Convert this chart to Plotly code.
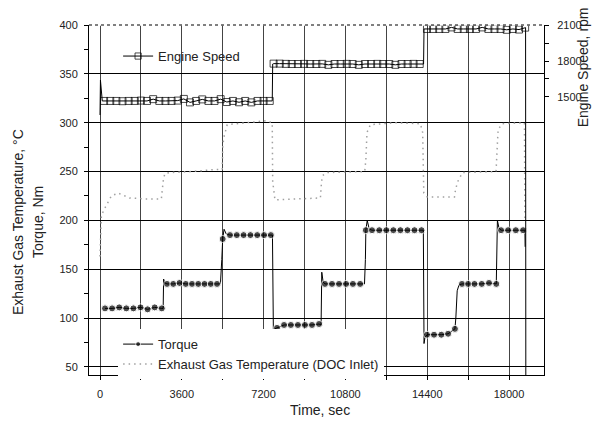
import plotly.graph_objects as go

# ---------------- data ----------------
time_ticks = [0, 3600, 7200, 10800, 14400, 18000]
time_tick_labels = ["0", "3600", "7200", "10800", "14400", "18000"]
time_minor = [1800, 5400, 9000, 12600, 16200]
left_ticks = [50, 100, 150, 200, 250, 300, 350, 400]
left_minor = [75, 125, 175, 225, 275, 325, 375]
speed_ticks = [1500, 1800, 2100]
speed_minor = [1650, 1950]

# Engine speed (rpm, right axis); sampled = 1 where a recorded sample (marker) sits
speed_time = [0, 20, 100,
              180, 450, 720, 990, 1260, 1530, 1800, 2070, 2340, 2610, 2880, 3150, 3420, 3690,
              3960, 4230, 4500, 4770, 5040, 5310, 5580, 5850, 6120, 6390, 6660, 6930, 7200, 7470,
              7580, 7600,
              7640, 7910, 8180, 8440, 8710, 8980, 9250, 9520, 9780, 10050, 10320, 10590, 10860,
              11120, 11390, 11660, 11930, 12200, 12460, 12730, 13000, 13270, 13540, 13800, 14070,
              14240, 14260,
              14390, 14660, 14930, 15200, 15470, 15740, 16010, 16280, 16550, 16820, 17090, 17360,
              17630, 17900, 18170, 18440, 18710,
              18730, 18740]
speed_rpm = [1350, 1640, 1467,
             1467, 1467, 1467, 1465, 1467, 1467, 1470, 1467, 1482, 1467, 1467, 1467, 1470, 1484,
             1455, 1467, 1480, 1467, 1467, 1482, 1458, 1467, 1456, 1467, 1455, 1467, 1467, 1467,
             1467, 1775,
             1778, 1778, 1776, 1775, 1775, 1776, 1775, 1775, 1776, 1768, 1775, 1775, 1776,
             1775, 1768, 1775, 1775, 1776, 1775, 1775, 1768, 1775, 1775, 1776, 1775,
             1775, 2067,
             2067, 2067, 2067, 2067, 2080, 2067, 2067, 2067, 2067, 2080, 2067, 2067,
             2067, 2060, 2067, 2062, 2078,
             2078, -900]
speed_sampled = [0, 0, 0,
                 1, 1, 1, 1, 1, 1, 1, 1, 1, 1, 1, 1, 1, 1,
                 1, 1, 1, 1, 1, 1, 1, 1, 1, 1, 1, 1, 1, 1,
                 0, 0,
                 1, 1, 1, 1, 1, 1, 1, 1, 1, 1, 1, 1, 1,
                 1, 1, 1, 1, 1, 1, 1, 1, 1, 1, 1, 1,
                 0, 0,
                 1, 1, 1, 1, 1, 1, 1, 1, 1, 1, 1, 1,
                 1, 1, 1, 1, 1,
                 0, 0]

# Torque (Nm, left axis)
torque_time = [220, 532, 845, 1157, 1470, 1782, 2095, 2407, 2720,
               2780, 2800, 2850,
               2950, 3225, 3500, 3775, 4050, 4325, 4600, 4875, 5150,
               5300, 5360,
               5400,
               5460, 5560,
               5720, 6020, 6320, 6620, 6920, 7220, 7520,
               7590, 7630, 7680,
               7790, 8100, 8400, 8710, 9020, 9330, 9640,
               9730, 9760, 9820,
               9900, 10210, 10520, 10830, 11130, 11450,
               11640, 11680,
               11700,
               11760, 11850,
               11970, 12290, 12600, 12910, 13220, 13530, 13840, 14150,
               14230, 14260, 14300,
               14390, 14700, 15020, 15320, 15620,
               15660, 15720, 15800,
               15930, 16200, 16480, 16800, 17120, 17440,
               17490, 17560,
               17650, 17960, 18300, 18620,
               18700, 18710]
torque_nm = [110, 110, 111, 110, 110, 111, 109, 111, 110,
             110, 140, 136,
             135, 135, 136, 135, 135, 135, 135, 135, 135,
             135, 160,
             181,
             191, 186,
             185, 185, 185, 185, 185, 185, 185,
             185, 88, 89,
             90, 93, 93, 93, 93, 93, 94,
             93, 147, 137,
             135, 135, 135, 135, 135, 135,
             135, 160,
             190,
             200, 191,
             190, 190, 190, 190, 190, 190, 190, 190,
             190, 74, 80,
             83, 83, 83, 84, 89,
             100, 128, 134,
             135, 135, 135, 135, 136, 135,
             200, 192,
             190, 190, 190, 190,
             190, 173]
torque_sampled = [1, 1, 1, 1, 1, 1, 1, 1, 1,
                  0, 0, 0,
                  1, 1, 1, 1, 1, 1, 1, 1, 1,
                  0, 0,
                  1,
                  0, 0,
                  1, 1, 1, 1, 1, 1, 1,
                  0, 0, 0,
                  1, 1, 1, 1, 1, 1, 1,
                  0, 0, 0,
                  1, 1, 1, 1, 1, 1,
                  0, 0,
                  1,
                  0, 0,
                  1, 1, 1, 1, 1, 1, 1, 1,
                  0, 0, 0,
                  1, 1, 1, 1, 1,
                  0, 0, 0,
                  1, 1, 1, 1, 1, 1,
                  0, 0,
                  1, 1, 1, 1,
                  0, 0]

# Exhaust gas temperature at DOC inlet (deg C, left axis)
egt_time = [0, 15, 60, 200, 500, 800, 1300, 2000, 2700, 2780, 2850, 3100, 4000, 5000,
            5380, 5400, 5450, 5600, 6500, 7300, 7580, 7600, 7700, 8500, 9700, 9750, 9800,
            10000, 11000, 11650, 11700, 11750, 11900, 13000, 14100, 14200, 14250, 14400,
            15000, 15600, 15650, 15750, 15950, 17000, 17430, 17460, 17520, 17700, 18300,
            18680, 18700]
egt_c = [163, 180, 205, 212, 225, 228, 223, 222, 222, 240, 248, 249, 250, 252,
         252, 275, 285, 298, 300, 302, 300, 240, 221, 222, 223, 240, 246,
         249, 250, 250, 262, 290, 298, 300, 299, 290, 228, 224,
         224, 224, 232, 240, 249, 250, 250, 265, 293, 299, 300,
         300, 200]

FONT = "Liberation Sans, Arial, sans-serif"

fig = go.Figure()

fig.add_trace(go.Scatter(
    x=torque_time, y=torque_nm, name="Torque", mode="lines+markers",
    line=dict(color="black", width=1),
    marker=dict(symbol="circle", color="black",
                size=[7 if s else 0 for s in torque_sampled]),
    legend="legend", yaxis="y"))

fig.add_trace(go.Scatter(
    x=egt_time, y=egt_c, name="Exhaust Gas Temperature (DOC Inlet)", mode="lines",
    line=dict(color="#a0a0a0", width=1.5, dash="1.5px,4px"),
    legend="legend", yaxis="y"))

fig.add_trace(go.Scatter(
    x=speed_time, y=speed_rpm, name="Engine Speed", mode="lines+markers",
    line=dict(color="black", width=1),
    marker=dict(symbol="square-open", color="black", line=dict(width=1, color="black"),
                size=[7 if s else 0 for s in speed_sampled]),
    legend="legend2", yaxis="y2"))

tickfont = dict(family=FONT, size=11, color="#222")

fig.update_layout(
    width=595, height=427,
    margin=dict(l=89, r=51, t=25, b=52),
    plot_bgcolor="white", paper_bgcolor="white",
    font=dict(family=FONT, color="#222"),
    xaxis=dict(range=[-484, 19540], tickmode="array", tickvals=time_ticks,
               ticktext=time_tick_labels, ticks="outside", ticklen=4, tickcolor="black",
               ticklabelstandoff=5,
               tickfont=tickfont, showline=True, linecolor="black", linewidth=1,
               showgrid=True, gridcolor="#444", gridwidth=1, zeroline=False,
               minor=dict(tickvals=time_minor, ticks="outside", ticklen=4,
                          tickcolor="black", showgrid=True, gridcolor="#444", gridwidth=1)),
    yaxis=dict(range=[41.8, 400], tickmode="array", tickvals=left_ticks,
               ticks="outside", ticklen=4, tickcolor="black", tickfont=tickfont,
               ticklabelstandoff=4,
               showline=True, linecolor="black", linewidth=1,
               showgrid=True, gridcolor="black", gridwidth=1, zeroline=False,
               minor=dict(tickvals=left_minor, ticks="outside", ticklen=4,
                          tickcolor="black", showgrid=False)),
    yaxis2=dict(range=[-817, 2100], overlaying="y", side="right", tickmode="array",
                tickvals=speed_ticks, ticks="outside", ticklen=4, tickcolor="black",
                tickfont=tickfont, ticklabelstandoff=6,
                showline=True, linecolor="black", linewidth=1,
                showgrid=False, zeroline=False,
                minor=dict(tickvals=speed_minor, ticks="outside", ticklen=4,
                           tickcolor="black")),
    legend=dict(x=0.064, y=0.131, xanchor="left", yanchor="top",
                bgcolor="white", borderwidth=0, tracegroupgap=0,
                font=dict(family=FONT, size=13, color="#222")),
    legend2=dict(x=0.064, y=0.954, xanchor="left", yanchor="top",
                 bgcolor="rgba(0,0,0,0)", borderwidth=0,
                 font=dict(family=FONT, size=13, color="#222")),
    shapes=[dict(type="line", xref="paper", yref="paper", x0=0, x1=1, y0=1, y1=1,
                 line=dict(color="white", width=1.5), layer="above"),
            dict(type="line", xref="paper", yref="paper", x0=0, x1=1, y0=1, y1=1,
                 line=dict(color="black", width=1, dash="dot"), layer="above")],
    annotations=[
        dict(text="Time, sec", xref="paper", yref="paper", x=0.508, y=-0.1,
             showarrow=False, font=dict(family=FONT, size=14, color="#222"),
             xanchor="center", yanchor="middle"),
        dict(text="Exhaust Gas Temperature, °C", xref="paper", yref="paper",
             x=-0.156, y=0.437, textangle=-90, showarrow=False,
             font=dict(family=FONT, size=14, color="#222"),
             xanchor="center", yanchor="middle"),
        dict(text="Torque, Nm", xref="paper", yref="paper",
             x=-0.112, y=0.437, textangle=-90, showarrow=False,
             font=dict(family=FONT, size=14, color="#222"),
             xanchor="center", yanchor="middle"),
        dict(text="Engine Speed, rpm", xref="paper", yref="paper",
             x=1.0865, y=0.88, textangle=-90, showarrow=False,
             font=dict(family=FONT, size=14, color="#222"),
             xanchor="center", yanchor="middle"),
    ],
)

fig.write_html("out.html")
